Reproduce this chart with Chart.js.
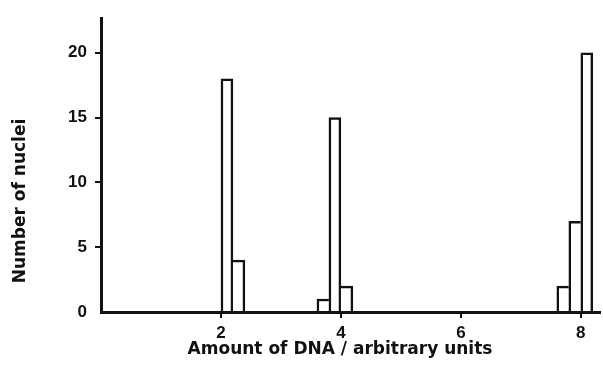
<!DOCTYPE html>
<html lang="en">
<head>
    <meta charset="UTF-8">
    <title>Number of nuclei vs amount of DNA</title>
    <script src="https://cdn.jsdelivr.net/npm/chart.js"></script>
    <style>
        body {
            margin: 0;
            padding: 0;
            background-color: #fff;
        }
        #dnaChart {
            display: block;
        }
    </style>
</head>
<body>

<canvas id="dnaChart" width="603" height="378"></canvas>

<script>
    // Data (bin centres, bins 0.2 units wide)
    const binCentres = [2.1, 2.3, 3.7, 3.9, 4.1, 7.7, 7.9, 8.1];
    const nucleiCounts = [18, 4, 1, 15, 2, 2, 7, 20];
    const binWidth = 0.2;
    const xTitle = 'Amount of DNA / arbitrary units';
    const yTitle = 'Number of nuclei';

    const points = binCentres.map((x, i) => ({ x: x, y: nucleiCounts[i] }));

    const ink = '#111';
    const lineW = 2.5;
    const tickFont = { family: '"Liberation Sans", Arial, sans-serif', size: 17, weight: 'bold' };

    // is bin j directly next to bin i ?
    function touching(i, j) {
        if (j < 0 || j >= binCentres.length) return false;
        return Math.abs(Math.abs(binCentres[j] - binCentres[i]) - binWidth) < 1e-6;
    }

    // histogram outline: a shared edge is drawn only by the taller of the two bars
    function barBorder(c) {
        const i = c.dataIndex;
        const h = nucleiCounts[i];
        const left = !touching(i, i - 1) || nucleiCounts[i - 1] < h;
        const right = !touching(i, i + 1) || nucleiCounts[i + 1] <= h;
        return { top: lineW, left: left ? lineW : 0, right: right ? lineW : 0, bottom: 0 };
    }

    // axis titles drawn at the positions used in the original figure
    const axisTitles = {
        id: 'axisTitles',
        afterDraw(chart) {
            const ctx = chart.ctx;
            ctx.save();
            ctx.font = 'bold 17px "DejaVu Sans", sans-serif';
            ctx.fillStyle = ink;
            ctx.textAlign = 'center';
            ctx.textBaseline = 'middle';
            ctx.fillText(xTitle, 340, 350);
            ctx.translate(21, 201);
            ctx.rotate(-Math.PI / 2);
            ctx.fillText(yTitle, 0, 0);
            ctx.restore();
        }
    };

    const ctx = document.getElementById('dnaChart').getContext('2d');
    new Chart(ctx, {
        type: 'bar',
        data: {
            datasets: [{
                data: points,
                backgroundColor: '#fff',
                borderColor: ink,
                borderWidth: barBorder,
                borderSkipped: false,
                barPercentage: 1,
                categoryPercentage: 1
            }]
        },
        options: {
            responsive: false,
            animation: false,
            layout: { padding: { top: 15, right: 3, left: 0, bottom: 0 } },
            plugins: {
                legend: { display: false },
                tooltip: { enabled: false }
            },
            scales: {
                x: {
                    type: 'linear',
                    min: 0,
                    max: 8.32,
                    offset: false,
                    afterFit: (scale) => { scale.height = 66; },
                    border: { display: true, color: ink, width: 3 },
                    grid: {
                        offset: false,
                        drawOnChartArea: false,
                        drawTicks: true,
                        tickLength: 6,
                        lineWidth: 2,
                        color: (c) => (c.tick && c.tick.value === 0) ? 'rgba(0,0,0,0)' : ink
                    },
                    ticks: {
                        stepSize: 2,
                        includeBounds: false,
                        padding: 5,
                        color: ink,
                        font: tickFont,
                        maxRotation: 0,
                        callback: (v) => v === 0 ? '' : v
                    }
                },
                y: {
                    min: 0,
                    max: 22.67,
                    afterFit: (scale) => { scale.width = 101; },
                    border: { display: true, color: ink, width: 3 },
                    grid: {
                        drawOnChartArea: false,
                        drawTicks: true,
                        tickLength: 6,
                        lineWidth: 2,
                        color: (c) => (c.tick && c.tick.value === 0) ? 'rgba(0,0,0,0)' : ink
                    },
                    ticks: {
                        stepSize: 5,
                        includeBounds: false,
                        padding: 8,
                        color: ink,
                        font: tickFont
                    }
                }
            }
        },
        plugins: [axisTitles]
    });
</script>

</body>
</html>
